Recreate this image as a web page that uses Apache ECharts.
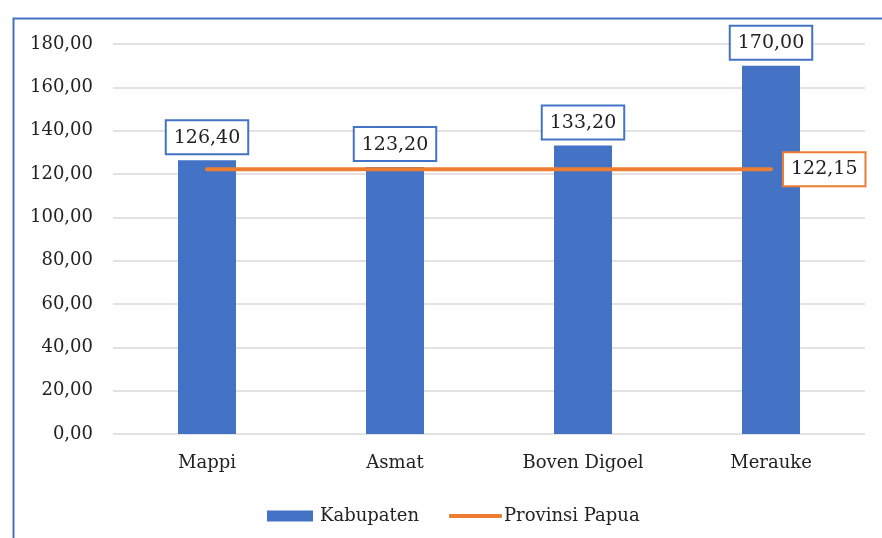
<!DOCTYPE html>
<html><head><meta charset="utf-8">
<script src="https://cdn.jsdelivr.net/npm/echarts@6/dist/echarts.min.js"></script>
<style>html,body{margin:0;padding:0;background:#fff}#c{width:882px;height:538px}</style>
</head><body><div id="c"></div>
<script>
const categories = ['Mappi', 'Asmat', 'Boven Digoel', 'Merauke'];
const kabupaten = [126.40, 123.20, 133.20, 170.00];
const provinsi = [122.15, 122.15, 122.15, 122.15];
const yTicks = { min: 0, max: 180, interval: 20 };

const FONT = 'DejaVu Serif';
const fmt = v => Number(v).toFixed(2).replace('.', ',');
const blue = '#4472C4', orange = '#ED7D31';

const chart = echarts.init(document.getElementById('c'));

chart.setOption({
  animation: false,
  graphic: [{
    type: 'rect', left: 11, top: 16,
    shape: { x: 0, y: 0, width: 890, height: 540 },
    style: { fill: 'none', stroke: blue, lineWidth: 2 }
  }],
  grid: { left: 113, right: 17, top: 44, bottom: 104 },
  legend: [{
    data: ['Kabupaten'], left: 262, top: 502, icon: 'rect',
    itemWidth: 46, itemHeight: 11,
    textStyle: { fontFamily: FONT, fontSize: 18, color: '#222', padding: [0, 0, 0, 2] }
  }, {
    data: ['Provinsi Papua'], left: 444, top: 502, icon: 'roundRect',
    itemWidth: 53, itemHeight: 4, itemGap: 0,
    textStyle: { fontFamily: FONT, fontSize: 18, color: '#222', padding: [0, 0, 0, -3] }
  }],
  xAxis: {
    type: 'category', data: categories,
    axisLine: { show: false }, axisTick: { show: false },
    axisLabel: { margin: 20, fontFamily: FONT, fontSize: 18, color: '#222' }
  },
  yAxis: {
    type: 'value', min: yTicks.min, max: yTicks.max, interval: yTicks.interval,
    axisLine: { show: false }, axisTick: { show: false },
    splitLine: { lineStyle: { color: '#d9d9d9', width: 1.5 } },
    axisLabel: { margin: 20, formatter: v => fmt(v), fontFamily: FONT, fontSize: 18, color: '#222' }
  },
  series: [{
    name: 'Kabupaten', type: 'bar', data: kabupaten, barWidth: 58,
    itemStyle: { color: blue },
    label: {
      show: true, position: 'top', distance: 7,
      formatter: p => fmt(p.value),
      backgroundColor: '#fff', borderColor: blue, borderWidth: 2,
      padding: [7, 7, 6, 7], color: '#222', fontFamily: FONT, fontSize: 19
    }
  }, {
    name: 'Provinsi Papua', type: 'line', data: provinsi,
    symbol: 'none', showSymbol: false,
    lineStyle: { color: orange, width: 4, cap: 'round' },
    itemStyle: { color: orange },
    endLabel: {
      show: true, distance: 13,
      formatter: p => fmt(p.value),
      backgroundColor: '#fff', borderColor: orange, borderWidth: 2,
      padding: [7, 7, 6, 7], color: '#222', fontFamily: FONT, fontSize: 19
    }
  }]
});
</script></body></html>
